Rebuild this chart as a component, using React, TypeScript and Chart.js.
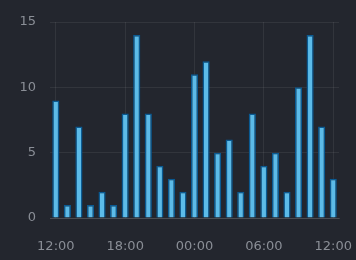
import React, { useEffect, useRef } from "react";
import { Chart, registerables } from "chart.js";

Chart.register(...registerables);

const categories = [
  "12:00", "13:00", "14:00", "15:00", "16:00", "17:00",
  "18:00", "19:00", "20:00", "21:00", "22:00", "23:00",
  "00:00", "01:00", "02:00", "03:00", "04:00", "05:00",
  "06:00", "07:00", "08:00", "09:00", "10:00", "11:00", "12:00",
];
const values = [9, 1, 7, 1, 2, 1, 8, 14, 8, 4, 3, 2, 11, 12, 5, 6, 2, 8, 4, 5, 2, 10, 14, 7, 3];
const yTicks = [0, 5, 10, 15];

export default function App() {
  const ref = useRef<HTMLCanvasElement | null>(null);
  useEffect(() => {
    if (!ref.current) return;
    const chart = new Chart(ref.current, {
      type: "bar",
      data: {
        labels: categories,
        datasets: [
          {
            data: values,
            backgroundColor: "#5cbbe8",
            borderColor: "#0a5a92",
            borderWidth: 1.5,
            barPercentage: 0.62,
            categoryPercentage: 1,
          },
        ],
      },
      options: {
        animation: false,
        responsive: false,
        maintainAspectRatio: false,
        layout: { padding: { left: 17.5, right: 17, top: 22, bottom: 2.4 } },
        plugins: { legend: { display: false }, tooltip: { enabled: false } },
        scales: {
          x: {
            grid: {
              color: (c: any) => (c.index % 6 === 0 ? "rgba(255,255,255,0.07)" : "rgba(0,0,0,0)"),
              offset: false,
              tickLength: 18,
              tickColor: "rgba(0,0,0,0)",
            },
            border: { color: "rgba(255,255,255,0.12)" },
            ticks: {
              color: "#8a8e96",
              font: { family: "DejaVu Sans", size: 13 },
              maxRotation: 0,
              autoSkip: false,
              padding: 3,
              callback: (_v: any, i: number) => (i % 6 === 0 ? categories[i] : ""),
            },
          },
          y: {
            min: 0,
            max: 15,
            afterBuildTicks: (axis: any) => {
              axis.ticks = yTicks.map((v) => ({ value: v }));
            },
            grid: { color: "rgba(255,255,255,0.07)", tickLength: 12, tickColor: "rgba(0,0,0,0)" },
            border: { display: false },
            ticks: {
              color: "#8a8e96",
              font: { family: "DejaVu Sans", size: 13 },
              padding: 2,
            },
          },
        },
      },
    });
    return () => chart.destroy();
  }, []);
  return (
    <div style={{ position: "fixed", left: 0, top: 0, width: 356, height: 260, background: "#23262e" }}>
      <canvas ref={ref} width={356} height={260} style={{ display: "block" }} />
    </div>
  );
}
